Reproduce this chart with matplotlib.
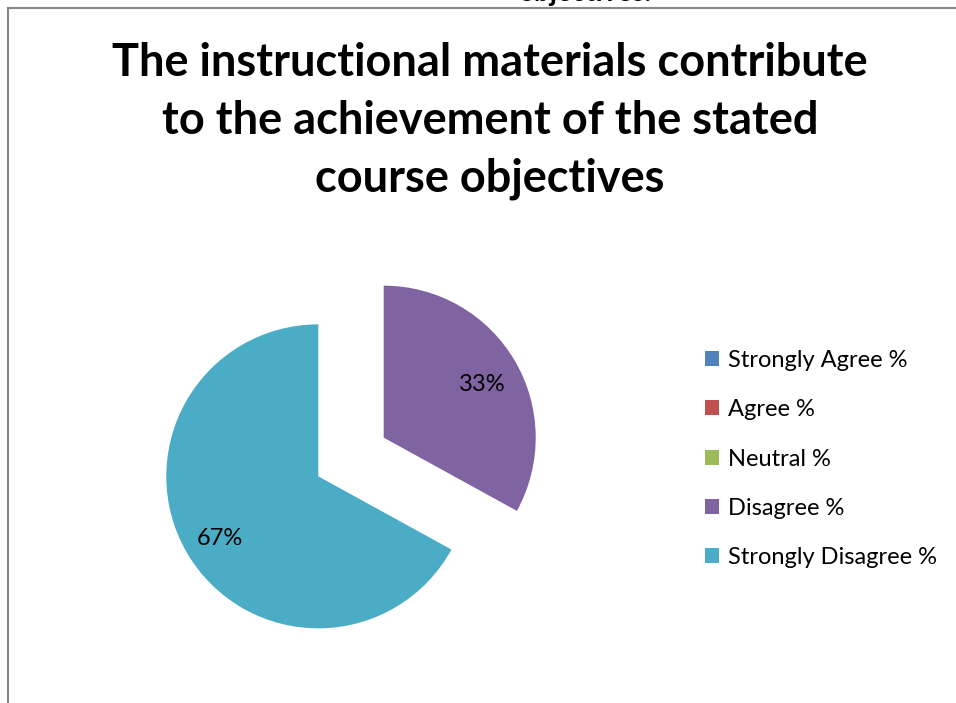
import matplotlib.pyplot as plt
from matplotlib.patches import Patch
from matplotlib.lines import Line2D

categories = ["Strongly Agree %", "Agree %", "Neutral %", "Disagree %", "Strongly Disagree %"]
values = [0, 0, 0, 33, 67]
colors = ["#4F81BD", "#C0504D", "#9BBB59", "#8064A2", "#4BACC6"]
explode = [0, 0, 0, 0.25, 0.25]

plt.rcParams['font.family'] = ['Lato', 'DejaVu Sans']

W, H = 956, 703
fig = plt.figure(figsize=(W / 100, H / 100), dpi=100)

# chart border (top and left edges visible)
fig.add_artist(Line2D([8 / W, 8 / W], [0, 1 - 8 / H], color="#888888", lw=1.5))
fig.add_artist(Line2D([8 / W, 1], [1 - 8 / H, 1 - 8 / H], color="#888888", lw=1.5))

# clipped fragment of the text above the chart
fig.text(585 / W, 1 - 1 / H, "objectives.", ha="center", va="baseline",
         fontsize=20, fontweight="bold")

fig.text(490 / W, 1 - 121 / H,
         "The instructional materials contribute\nto the achievement of the stated\ncourse objectives",
         ha="center", va="center", fontsize=32.5, fontweight="bold", linespacing=1.45)

# pie axes: centre (351, 457) px, radius 152 px
half = 200
ax = fig.add_axes([(351 - half) / W, (H - 457 - half) / H, 2 * half / W, 2 * half / H])


def pct(p):
    return f"{p:.0f}%" if p > 0 else ""


wedges, texts, autotexts = ax.pie(values, colors=colors, explode=explode, startangle=90,
                                  counterclock=False, autopct=pct, pctdistance=0.75,
                                  textprops={"fontsize": 17})
for t in autotexts:
    x, y = t.get_position()
    t.set_position((x, y - 0.03))
lim = half / 152
ax.set_xlim(-lim, lim)
ax.set_ylim(-lim, lim)
ax.set_aspect("equal")
ax.axis("off")

handles = [Patch(facecolor=c, edgecolor="none") for c in colors]
fig.legend(handles, categories, loc="center left", bbox_to_anchor=(684 / W, 1 - 459 / H),
           frameon=False, fontsize=17, handlelength=0.6, handleheight=0.6,
           handletextpad=0.35, labelspacing=1.2)

fig.savefig("out.png", dpi=100)
